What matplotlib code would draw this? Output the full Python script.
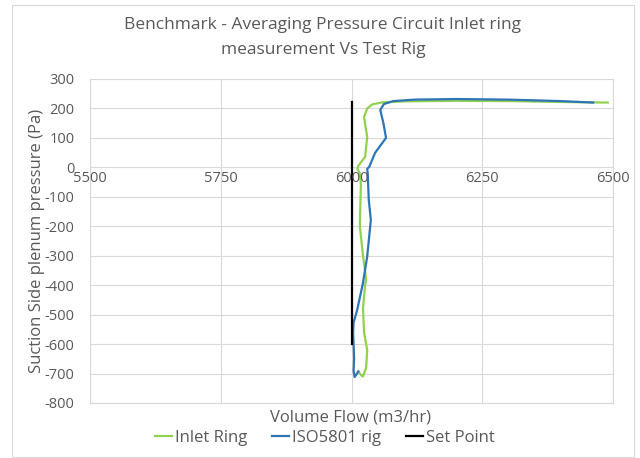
import matplotlib.pyplot as plt
from matplotlib.patches import Rectangle

# Inlet Ring (flow m3/hr, pressure Pa)
inlet_flow = [6013, 6018, 6022, 6028, 6030, 6024, 6022, 6026, 6028, 6022, 6016, 6017, 6018,
              6016, 6011, 6013, 6026, 6030, 6024, 6030, 6040, 6060, 6100, 6200, 6300, 6400, 6490]
inlet_pres = [-693, -705, -710, -680, -620, -560, -480, -400, -380, -300, -200, -120, -60,
              -20, -5, 5, 36, 103, 171, 200, 214, 221, 224, 226, 225, 222, 220]

# ISO5801 rig
iso_flow = [6013, 6006, 6004, 6005, 6004, 6003, 6004, 6011, 6022, 6030, 6037, 6033, 6031,
            6030, 6034, 6045, 6066, 6061, 6055, 6062, 6080, 6120, 6200, 6300, 6400, 6462]
iso_pres = [-693, -712, -690, -650, -600, -560, -527, -483, -392, -303, -178, -110, -20,
            -5, 2, 49, 100, 150, 195, 215, 225, 230, 232, 230, 225, 220]

# Set Point
set_flow = [6000, 6000]
set_pres = [-600, 222]

x_ticks = [5500, 5750, 6000, 6250, 6500]

plt.rcParams['font.family'] = ['Open Sans', 'DejaVu Sans']
plt.rcParams['axes.unicode_minus'] = False
txt = '#595959'

fig = plt.figure(figsize=(6.4, 4.58), dpi=100)
ax = fig.add_axes([90 / 640, 1 - 403 / 458, (613 - 90) / 640, (403 - 79) / 458])

ax.plot(inlet_flow, inlet_pres, color='#92D050', lw=1.6, label='Inlet Ring')
ax.plot(iso_flow, iso_pres, color='#2E75B6', lw=1.6, label='ISO5801 rig')
ax.plot(set_flow, set_pres, color='black', lw=1.6, label='Set Point')

ax.set_xlim(5500, 6500)
ax.set_ylim(-800, 300)
ax.set_xticks(x_ticks)
ax.set_yticks(range(-800, 301, 100))
ax.grid(color='#D9D9D9', lw=0.8)
ax.set_axisbelow(True)

for s in ax.spines.values():
    s.set_color('#D9D9D9')
    s.set_linewidth(0.8)

# x labels sit under the zero line, Excel style
ax.tick_params(length=0, labelcolor=txt, labelsize=10.5)
ax.tick_params(axis='y', pad=11)
ax.set_xticklabels([])
for xv in x_ticks:
    ax.text(xv, -12, str(xv), color=txt, fontsize=10.5, ha='center', va='top')

ax.set_ylabel('Suction Side plenum pressure (Pa)', color=txt, fontsize=12, labelpad=0)
fig.text(351 / 640, 1 - 418 / 458, 'Volume Flow (m3/hr)', color=txt, fontsize=12,
         ha='center', va='center')

fig.text(323 / 640, 1 - 25 / 458, 'Benchmark - Averaging Pressure Circuit Inlet ring',
         color=txt, fontsize=12.5, ha='center', va='center')
fig.text(323 / 640, 1 - 50 / 458, 'measurement Vs Test Rig',
         color=txt, fontsize=12.5, ha='center', va='center')

leg = fig.legend(loc='center', bbox_to_anchor=(325 / 640, 1 - 438 / 458), ncol=3,
                 frameon=False, fontsize=12, handlelength=1.0, handletextpad=0.2,
                 columnspacing=1.5)
for t in leg.get_texts():
    t.set_color(txt)

fig.patches.append(Rectangle((12 / 640, 1 - 457 / 458), (634 - 12) / 640, (457 - 5) / 458,
                             transform=fig.transFigure, fill=False, edgecolor='#D9D9D9', lw=0.8))

fig.savefig('out.png', dpi=100)
